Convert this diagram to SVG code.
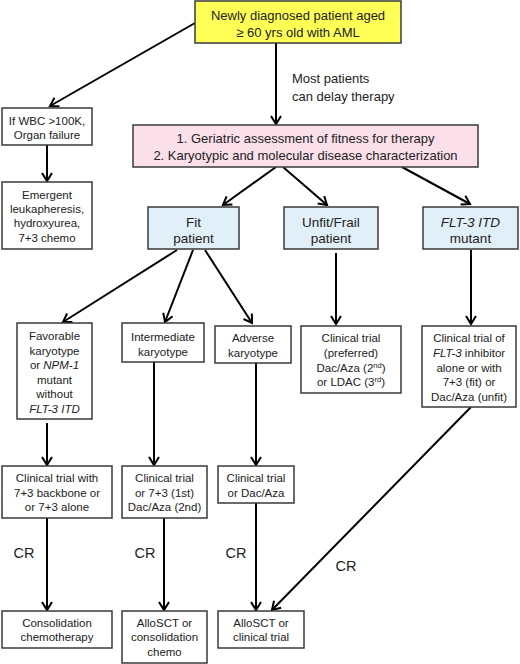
<svg xmlns="http://www.w3.org/2000/svg" width="520" height="664" viewBox="0 0 520 664">
<defs>
<marker id="ah" markerUnits="userSpaceOnUse" markerWidth="14" markerHeight="14" viewBox="-10 -7 12 14" refX="0" refY="0" orient="auto">
<path d="M-8,-5 L0,0 L-8,5" fill="none" stroke="#000" stroke-width="2"/>
</marker>
</defs>
<style>
.box{fill:#fff;stroke:#3a3a3a;stroke-width:1.5}
.y{fill:#ffff55}
.p{fill:#fbe0ea}
.b{fill:#e1eff9}
text{font-family:"Liberation Sans",Arial,sans-serif;font-size:11.5px;fill:#222;text-anchor:middle}
.l{font-size:13px}
.m{font-size:13.5px}
.s{font-size:7.5px}
.cr{font-size:14.5px}
.c line{stroke:#000;stroke-width:2;marker-end:url(#ah)}
</style>
<rect width="520" height="664" fill="#fff"/>
<g class="c" id="connectors">
<line x1="195" y1="23" x2="50" y2="106"/>
<line x1="47" y1="145" x2="47" y2="181"/>
<line x1="276" y1="43" x2="276" y2="124"/>
<line x1="276" y1="167" x2="223" y2="205"/>
<line x1="283" y1="167" x2="327" y2="205"/>
<line x1="402" y1="167" x2="470" y2="204"/>
<line x1="177" y1="250" x2="63" y2="322"/>
<line x1="193" y1="250" x2="165" y2="322"/>
<line x1="205" y1="250" x2="252" y2="323"/>
<line x1="336" y1="253" x2="336" y2="324"/>
<line x1="471" y1="250" x2="471" y2="324"/>
<line x1="47" y1="423" x2="47" y2="465"/>
<line x1="154" y1="362" x2="154" y2="465"/>
<line x1="256" y1="363" x2="256" y2="465"/>
<line x1="471" y1="407" x2="272" y2="610"/>
<line x1="47" y1="518" x2="47" y2="610"/>
<line x1="164" y1="518" x2="164" y2="610"/>
<line x1="256" y1="503" x2="256" y2="610"/>
</g>
<g id="labels">
<text class="l" x="292" y="83" style="text-anchor:start">Most patients</text>
<text class="l" x="292" y="101" style="text-anchor:start">can delay therapy</text>
<text class="cr" x="24" y="558">CR</text>
<text class="cr" x="145" y="558">CR</text>
<text class="cr" x="236" y="558">CR</text>
<text class="cr" x="346" y="571">CR</text>
</g>
<g id="n-top"><rect class="box y" x="195" y="1" width="206" height="42"/>
<text class="l" x="298" y="19.5">Newly diagnosed patient aged</text>
<text class="l" x="298" y="37">≥ 60 yrs old with AML</text></g>
<g id="n-wbc"><rect class="box" x="2" y="108" width="90" height="37"/>
<text x="47" y="125">If WBC &gt;100K,</text>
<text x="47" y="139">Organ failure</text></g>
<g id="n-emergent"><rect class="box" x="2" y="182" width="90" height="67"/>
<text x="47" y="199">Emergent</text>
<text x="47" y="213">leukapheresis,</text>
<text x="47" y="227">hydroxyurea,</text>
<text x="47" y="242">7+3 chemo</text></g>
<g id="n-assess"><rect class="box p" x="133" y="125" width="345" height="42"/>
<text class="l" x="305.5" y="142.5">1. Geriatric assessment of fitness for therapy</text>
<text class="l" x="305.5" y="159.5">2. Karyotypic and molecular disease characterization</text></g>
<g id="n-fit"><rect class="box b" x="148" y="207" width="91" height="42"/>
<text class="m" x="193.5" y="226.5">Fit</text>
<text class="m" x="193.5" y="242.5">patient</text></g>
<g id="n-unfit"><rect class="box b" x="284" y="207" width="94" height="42"/>
<text class="m" x="331" y="226.5">Unfit/Frail</text>
<text class="m" x="331" y="242.5">patient</text></g>
<g id="n-flt"><rect class="box b" x="423" y="207" width="95" height="42"/>
<text class="m" x="470.5" y="226.5" font-style="italic">FLT-3 ITD</text>
<text class="m" x="470.5" y="242.5">mutant</text></g>
<g id="n-fav"><rect class="box" x="17" y="323" width="75" height="96"/>
<text x="54.5" y="340">Favorable</text>
<text x="54.5" y="354.5">karyotype</text>
<text x="54.5" y="369">or <tspan font-style="italic">NPM-1</tspan></text>
<text x="54.5" y="383.5">mutant</text>
<text x="54.5" y="398">without</text>
<text x="54.5" y="413" font-style="italic">FLT-3 ITD</text></g>
<g id="n-int"><rect class="box" x="122" y="323" width="82" height="39"/>
<text x="163" y="341">Intermediate</text>
<text x="163" y="356">karyotype</text></g>
<g id="n-adv"><rect class="box" x="215" y="326" width="76" height="37"/>
<text x="253" y="342">Adverse</text>
<text x="253" y="357">karyotype</text></g>
<g id="n-unfit-trial"><rect class="box" x="301" y="326" width="100" height="67"/>
<text x="351" y="342">Clinical trial</text>
<text x="351" y="357">(preferred)</text>
<text x="351" y="372">Dac/Aza (2<tspan class="s" dy="-4">nd</tspan><tspan dy="4">)</tspan></text>
<text x="351" y="386">or LDAC (3<tspan class="s" dy="-4">rd</tspan><tspan dy="4">)</tspan></text></g>
<g id="n-flt-trial"><rect class="box" x="422" y="326" width="94" height="81"/>
<text x="469" y="342">Clinical trial of</text>
<text x="469" y="357"><tspan font-style="italic">FLT-3</tspan> inhibitor</text>
<text x="469" y="372">alone or with</text>
<text x="469" y="386">7+3 (fit) or</text>
<text x="469" y="401">Dac/Aza (unfit)</text></g>
<g id="n-fav-trial"><rect class="box" x="2" y="466" width="110" height="52"/>
<text x="57" y="482">Clinical trial with</text>
<text x="57" y="497">7+3 backbone or</text>
<text x="57" y="511">or 7+3 alone</text></g>
<g id="n-int-trial"><rect class="box" x="122" y="466" width="85" height="52"/>
<text x="164.5" y="482">Clinical trial</text>
<text x="164.5" y="497">or 7+3 (1st)</text>
<text x="164.5" y="511">Dac/Aza (2nd)</text></g>
<g id="n-adv-trial"><rect class="box" x="218" y="466" width="76" height="37"/>
<text x="256" y="482">Clinical trial</text>
<text x="256" y="497">or Dac/Aza</text></g>
<g id="n-consol"><rect class="box" x="2" y="611" width="110" height="37"/>
<text x="57" y="627">Consolidation</text>
<text x="57" y="641">chemotherapy</text></g>
<g id="n-allo1"><rect class="box" x="122" y="611" width="85" height="52"/>
<text x="164.5" y="627">AlloSCT or</text>
<text x="164.5" y="641">consolidation</text>
<text x="164.5" y="656">chemo</text></g>
<g id="n-allo2"><rect class="box" x="218" y="611" width="86" height="37"/>
<text x="261" y="627">AlloSCT or</text>
<text x="261" y="641">clinical trial</text></g>
</svg>
